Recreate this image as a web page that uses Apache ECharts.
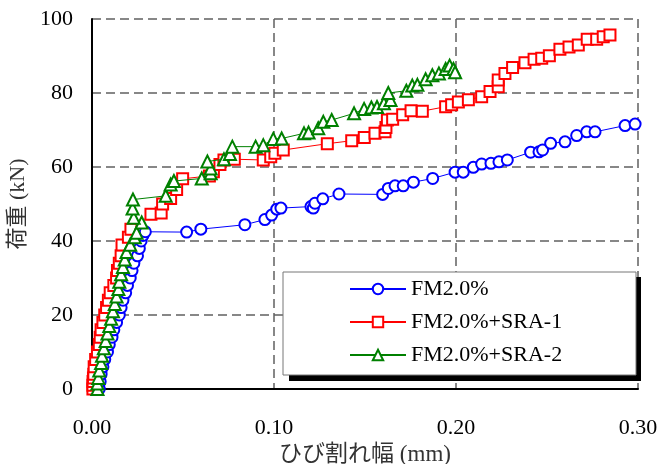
<!DOCTYPE html>
<html>
<head>
<meta charset="utf-8">
<script src="https://cdn.jsdelivr.net/npm/echarts@6/dist/echarts.min.js"></script>
<style>html,body{margin:0;padding:0;background:#fff}#c{width:658px;height:464px}</style>
</head>
<body>
<div id="c"></div>
<script>
// ---- data ----
const seriesNames = ['FM2.0%', 'FM2.0%+SRA-1', 'FM2.0%+SRA-2'];
const xTicks = ['0.00', '0.10', '0.20', '0.30'];
const yTicks = [0, 20, 40, 60, 80, 100];

const xFM = [0.004,0.0045,0.005,0.006,0.007,0.0085,0.0095,0.011,0.012,0.0135,0.015,0.016,0.017,0.0185,0.0195,0.021,0.022,0.023,0.025,0.026,0.027,0.028,
  0.0293,0.052,0.0598,0.084,0.095,0.0987,0.1015,0.1038,0.1203,0.1216,0.1225,0.1268,0.1357,0.1597,0.1628,0.1665,0.171,0.1766,0.1872,0.1995,0.204,0.2095,0.2141,0.2192,0.2236,0.2282,0.241,0.2456,0.2476,0.252,0.2599,0.2663,0.2718,0.2764,0.2929,0.2984,0.306];
const yFM = [0,2,4,6,8,10,12,14,16,18,20,22,24,26,28,30,32,34,36,38,40,41.5,
  42.5,42.4,43.2,44.4,45.8,47.0,48.6,48.9,49.3,48.9,50.2,51.4,52.7,52.6,54.2,54.9,54.9,55.9,56.9,58.6,58.6,59.9,60.8,61.0,61.4,61.9,64.0,64.1,64.6,66.4,66.8,68.5,69.5,69.5,71.2,71.6,72.6];

const xSRA1 = [0.0005,0.0005,0.0006,0.0008,0.001,0.0012,0.002,0.003,0.004,0.0045,0.005,0.006,0.007,0.008,0.009,0.010,0.012,0.0135,0.014,0.015,0.016,0.0165,0.020,
  0.0214,0.0324,0.038,0.0388,0.0432,0.0465,0.0498,0.0645,0.0667,0.0703,0.0725,0.0782,0.0941,0.0982,0.1005,0.1051,0.1293,0.1427,0.1496,0.1555,0.161,0.1615,0.1623,0.1652,0.1707,0.1753,0.1815,0.1943,0.1976,0.2013,0.2068,0.2141,0.2187,0.2232,0.2232,0.2269,0.2311,0.2379,0.2429,0.2471,0.2513,0.2571,0.2621,0.2672,0.2721,0.2773,0.2809,0.2846];
const ySRA1 = [0,1,2,3,4,6,8,10,12,14,16,18,20,22,24,26,28,30,32,34,36,38.9,41,
  43.2,47.2,47.6,50,51.5,53.9,56.8,57.6,58.7,60.7,61.9,62.1,61.9,62.8,63.7,64.6,66.3,67.1,68,69.1,69.5,70.7,72.7,72.9,74.1,75.2,75.1,76.3,76.8,77.6,78.2,79,80.4,81.7,83.5,85.3,86.9,88.2,89.1,89.4,90.1,91.8,92.4,93,94.5,94.5,95.2,95.7];

const xSRA2 = [0.003,0.003,0.0035,0.004,0.005,0.0055,0.0065,0.0075,0.0085,0.0095,0.0105,0.0115,0.0125,0.0135,0.0145,0.015,0.016,0.017,0.018,0.019,0.021,0.0235,0.0245,
  0.0273,0.0229,0.0223,0.0225,0.0405,0.0432,0.045,0.0603,0.0652,0.0652,0.0634,0.0725,0.0758,0.0771,0.0899,0.0941,0.0996,0.1042,0.1165,0.119,0.1243,0.1271,0.1317,0.144,0.1495,0.1535,0.1566,0.1604,0.164,0.1628,0.1727,0.176,0.1788,0.1833,0.187,0.1906,0.1943,0.1965,0.1986,0.1995];
const ySRA2 = [0,1.5,3,5,7,9,11,13,15,17,19,21,23,25,27,29,31,33,35,37,39,41,42.2,
  45.0,46.3,48.8,51.2,52.2,55.3,56.2,56.9,58.3,59.6,61.5,62.1,63.5,65.5,65.5,65.9,67.6,67.7,69.1,69.3,70.5,72.2,72.7,74.5,75.7,76.1,76.2,77.2,78.1,80.0,80.6,82.0,82.2,83.7,84.8,85.3,86.5,87.4,86.5,85.6];

const zip = (xs, ys) => xs.map((x, i) => [x, ys[i]]);
const colors = ['#0000ff', '#ff0000', '#008000'];
const symbols = ['circle', 'rect', 'triangle'];
const sizes = [11, 11, 12];
const datasets = [zip(xFM, yFM), zip(xSRA1, ySRA1), zip(xSRA2, ySRA2)];

const serifFont = '"Liberation Serif","Times New Roman","Noto Sans CJK JP",serif';

const chart = echarts.init(document.getElementById('c'), null, {renderer: 'canvas'});
chart.setOption({
  animation: false,
  backgroundColor: '#fff',
  grid: {left: 92, right: 20, top: 19, bottom: 75, containLabel: false, outerBoundsMode: 'none'},
  xAxis: {
    type: 'value', min: 0, max: 0.3, interval: 0.1,
    name: 'ひび割れ幅 (mm)', nameLocation: 'middle', nameGap: 40,
    nameTextStyle: {fontFamily: serifFont, fontSize: 23, color: '#333'},
    axisLine: {show: true, onZero: false, lineStyle: {color: '#000', width: 2}},
    axisTick: {show: false},
    axisLabel: {margin: 28, fontFamily: serifFont, fontSize: 22, color: '#000',
      formatter: (v) => xTicks[Math.round(v * 10)] ?? ''},
    splitLine: {show: true, lineStyle: {color: '#606060', width: 1.5, type: [9, 5]}}
  },
  yAxis: {
    type: 'value', min: 0, max: 100, interval: 20,
    name: '荷重 (kN)', nameLocation: 'middle', nameGap: 62, nameRotate: 90,
    nameTextStyle: {fontFamily: serifFont, fontSize: 22, color: '#333'},
    axisLine: {show: true, lineStyle: {color: '#000', width: 2}},
    axisTick: {show: false},
    axisLabel: {margin: 19, fontFamily: serifFont, fontSize: 22, color: '#000',
      formatter: (v) => yTicks.includes(v) ? String(v) : ''},
    splitLine: {show: true, lineStyle: {color: '#606060', width: 1.5, type: [9, 5]}}
  },
  graphic: [
    {type: 'rect', z: 3, shape: {x: 289, y: 277, width: 352, height: 104}, style: {fill: '#000'}},
    {type: 'rect', z: 3, shape: {x: 283, y: 272, width: 353, height: 103}, style: {fill: '#fff', stroke: '#777', lineWidth: 1}}
  ],
  legend: {
    z: 5,
    orient: 'vertical', left: 349, top: 278, padding: 0,
    itemWidth: 56, itemHeight: 13, itemGap: 11,
    textStyle: {fontFamily: serifFont, fontSize: 22, lineHeight: 22, color: '#000'},
    data: seriesNames
  },
  series: seriesNames.map((name, i) => ({
    name: name,
    type: 'line',
    data: datasets[i],
    clip: true,
    showAllSymbol: true,
    symbol: symbols[i],
    symbolSize: sizes[i],
    lineStyle: {color: colors[i], width: 1},
    itemStyle: {color: '#fff', borderColor: colors[i], borderWidth: 2},
    emphasis: {disabled: true},
    z: 2 + i
  }))
});
</script>
</body>
</html>
